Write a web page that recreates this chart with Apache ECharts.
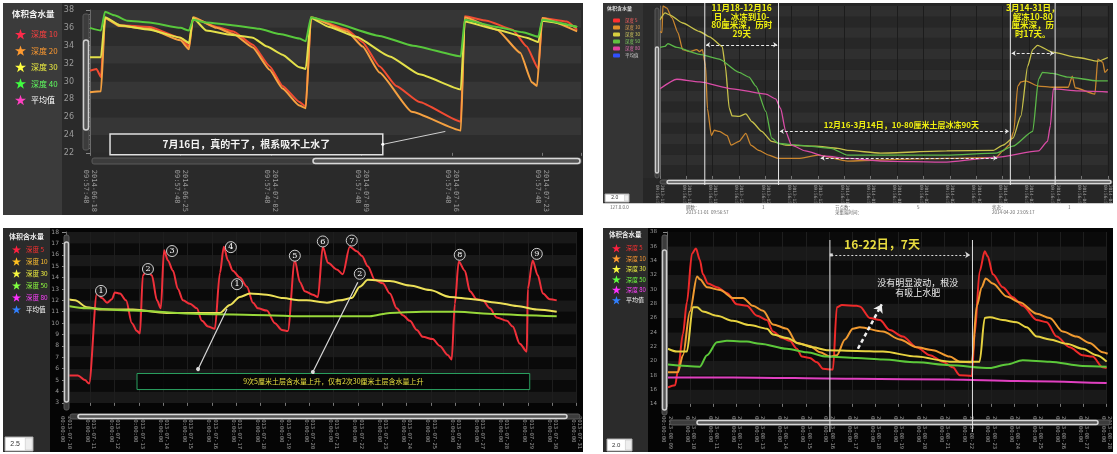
<!DOCTYPE html>
<html><head><meta charset="utf-8">
<script src="https://cdn.jsdelivr.net/npm/echarts@6/dist/echarts.min.js"></script>
<style>
html,body{margin:0;padding:0;background:#fff;width:1117px;height:454px;overflow:hidden;}
.p{position:absolute;}
</style></head><body>
<div id="c1" class="p" style="left:3px;top:3px;width:580px;height:212px"></div>
<div id="c2" class="p" style="left:603px;top:3px;width:510px;height:212px"></div>
<div id="c3" class="p" style="left:3px;top:228px;width:580px;height:224px"></div>
<div id="c4" class="p" style="left:603px;top:228px;width:510px;height:224px"></div>
<script>
// ================= DATA =================
// Panel 1 (top-left): x = days since 2014-06-18 09:57:48
const p1Ticks = ['2014-06-18','2014-06-25','2014-07-02','2014-07-09','2014-07-16','2014-07-23'];
const p1Time = '09:57:48';
const p1Names = ['深度 10','深度 20','深度 30','深度 40','平均值'];
const p1Red = [[0,31.2],[0.5,31.4],[0.85,30.5],[1.16,37.1],[2.3,36.3],[4.6,36.1],[7.0,34.9],[7.66,33.9],[7.97,37.1],[9.8,36.1],[11.1,35.6],[12.6,34.1],[13.9,31.7],[14.9,29.5],[16.2,27.7],[16.7,27.2],[17.1,37.2],[19.9,35.8],[21.1,34.4],[22.4,31.7],[23.7,29.5],[25.5,27.7],[28.7,25.5],[29.0,37.3],[30.7,36.8],[32.7,35.8],[33.8,33.9],[34.7,31.4],[35.0,37.1],[36.9,36.7],[37.7,35.8]];
const p1Orange = [[0,28.8],[0.85,28.9],[1.16,37.1],[2.3,36.2],[4.6,35.9],[7.0,34.6],[7.66,33.6],[7.97,37.2],[9.8,36.0],[11.1,35.3],[12.6,33.8],[13.9,31.3],[14.9,29.2],[16.2,27.3],[16.7,27.0],[17.1,37.2],[19.9,35.6],[21.1,33.9],[22.4,31.0],[24.9,26.6],[28.7,24.5],[29.0,37.2],[31.5,35.8],[33.3,33.2],[34.2,29.9],[34.6,29.5],[35.0,37.1],[37.7,35.6]];
const p1Yellow = [[0,32.7],[0.85,32.7],[1.16,37.2],[2.3,36.3],[4.6,35.8],[7.0,34.9],[7.66,34.3],[7.97,37.1],[9.0,35.7],[11.0,35.2],[12.6,34.9],[13.7,33.9],[14.9,33.0],[16.2,31.6],[16.7,31.4],[17.1,37.1],[18.5,36.1],[20.6,35.0],[23.2,32.8],[25.5,30.8],[28.7,29.1],[29.0,36.7],[31.5,35.8],[33.8,34.9],[34.7,34.4],[35.0,36.8],[37.7,36.1]];
const p1Green = [[0,36.0],[0.85,35.7],[1.16,37.8],[1.9,37.4],[2.9,36.8],[4.6,36.6],[7.0,36.0],[7.66,35.7],[7.97,36.9],[9.0,36.6],[11.0,36.3],[13.1,35.9],[14.7,35.3],[16.2,34.8],[16.7,34.5],[17.1,37.2],[18.5,36.7],[22.4,35.1],[25.0,34.0],[28.7,32.8],[29.0,36.9],[31.5,36.1],[33.5,35.5],[34.7,35.0],[35.0,36.9],[37.7,36.1]];
const p1Note = '7月16日，真的干了，根系吸不上水了';
const p1NoteBox = [[1.55,24.1],[22.66,21.8]];
const p1NoteTarget = [27.5,24.4];

// Panel 2 (top-right): x = days since 2013-11-01
const p2Ticks = ['2013-11-01','2013-11-11','2013-11-21','2013-12-01','2013-12-11','2013-12-21','2013-12-31','2014-01-10','2014-01-20','2014-01-30','2014-02-09','2014-02-19','2014-03-01','2014-03-11','2014-03-21','2014-03-31','2014-04-10','2014-04-20'];
const p2Time = '09:56:57';
const p2Names = ['深度 5','深度 10','深度 30','深度 50','深度 80','平均值'];
const p2Orange = [[0,27.2],[0.75,27.0],[1.1,32.0],[2.6,31.6],[4.5,29.8],[6.8,27.0],[8.6,23.8],[11.3,23.4],[13.9,23.8],[15.0,23.4],[16.1,23.8],[17.3,20.7],[18.0,12.7],[19.5,7.6],[20.6,8.6],[22.5,8.4],[25.5,7.6],[27.0,5.8],[30.0,6.5],[32.6,8.0],[34.5,5.8],[37.5,4.8],[41.3,3.9],[45.0,3.3],[52.5,3.3],[60.0,3.9],[71.3,2.8],[83.7,3.0],[96.4,3.2],[108.8,3.3],[127.6,3.5],[130.2,4.7],[132.5,5.8],[134.3,8.4],[135.8,16.9],[137.0,17.7],[138.8,17.9],[143.7,16.9],[149.0,16.7],[155.0,16.7],[156.5,18.8],[157.6,16.6],[165.1,15.4],[166.2,22.0],[168.1,21.4],[168.9,19.5],[170,20.1]];
const p2Yellow = [[0,29.4],[1.9,30.7],[3.8,30.3],[8.6,28.8],[15.0,27.2],[18.8,26.2],[23.6,24.4],[24.8,20.7],[26.3,12.7],[27.4,11.3],[30.0,11.2],[32.6,11.7],[34.9,10.2],[38.6,8.4],[42.4,6.5],[47.7,5.8],[58.9,5.6],[67.5,5.2],[71.3,4.8],[83.7,4.3],[108.8,4.7],[126.5,4.8],[130.2,5.8],[134.0,7.1],[137.0,11.3],[139.6,20.7],[141.5,23.8],[143.3,24.6],[149.0,23.3],[158.7,22.3],[166.2,21.6],[170,22.3]];
const p2Green = [[0,24.2],[1.9,24.4],[3.0,24.9],[6.4,24.2],[15.0,22.9],[22.5,22.0],[30.0,19.5],[33.8,18.6],[36.4,16.9],[40.2,12.1],[42.4,7.1],[45.0,6.1],[52.5,5.8],[64.9,5.2],[71.3,3.9],[108.8,3.9],[127.6,4.3],[134.0,5.6],[141.5,8.4],[143.7,18.2],[145.2,19.5],[149.0,19.3],[155.0,18.6],[166.2,17.9],[170,17.9]];
const p2Magenta = [[0,16.4],[6.4,18.2],[15.0,17.7],[27.4,16.4],[40.2,15.4],[43.9,14.5],[45.8,12.7],[47.7,8.4],[49.9,5.8],[55.2,4.7],[62.7,3.7],[71.3,3.3],[83.7,2.8],[108.8,2.6],[127.6,3.5],[143.7,4.7],[147.1,6.5],[148.2,9.5],[149.3,16.4],[158.7,16.0],[170,15.8]];
const p2Marks = [17,45,133,150];
const p2Note1 = '11月18-12月16\n日，冰冻到10-\n80厘米深，历时\n29天';
const p2Note2 = '12月16-3月14日，10-80厘米土层冰冻90天';
const p2Note3 = '3月14-31日，\n解冻10-80\n厘米深，历\n时17天。';

// Panel 3 (bottom-left): x = label index (daily)
const p3Ticks = ['2013-07-10','2013-07-11','2013-07-12','2013-07-13','2013-07-14','2013-07-15','2013-07-16','2013-07-17','2013-07-18','2013-07-19','2013-07-20','2013-07-21','2013-07-22','2013-07-23','2013-07-24','2013-07-25','2013-07-26','2013-07-27','2013-07-28','2013-07-29','2013-07-30','2013-07-31'];
const p3Time = '00:00:00';
const p3Names = ['深度 5','深度 10','深度 30','深度 50','深度 80','平均值'];
const p3Red = [[0.08,5.4],[0.49,5.4],[0.78,5.0],[0.95,4.7],[1.27,12.6],[1.48,12.2],[1.69,11.8],[1.89,12.1],[2.01,12.7],[2.22,12.6],[2.47,12.0],[2.71,10.0],[2.92,9.3],[3.04,9.1],[3.16,14.2],[3.33,14.6],[3.53,14.2],[3.74,12.0],[3.90,11.3],[4.03,16.4],[4.19,15.5],[4.40,14.6],[4.60,13.0],[4.81,12.0],[5.10,11.7],[5.38,11.3],[5.59,10.2],[5.84,9.7],[6.12,9.5],[6.33,14.4],[6.49,16.7],[6.66,15.5],[6.86,14.6],[7.15,14.0],[7.44,13.2],[7.69,11.8],[7.89,11.3],[8.26,11.1],[8.59,10.0],[8.88,9.4],[9.12,9.3],[9.41,15.5],[9.62,13.6],[9.82,12.8],[10.15,12.5],[10.36,12.3],[10.56,16.7],[10.77,15.3],[11.14,14.7],[11.38,14.3],[11.67,16.7],[11.96,16.3],[12.17,15.9],[12.41,15.0],[12.70,13.8],[13.03,13.5],[13.32,12.6],[13.60,11.3],[13.85,10.7],[14.14,10.2],[14.43,9.4],[14.67,8.8],[15.08,8.6],[15.37,8.0],[15.70,7.2],[15.86,6.8],[15.99,11.7],[16.15,15.4],[16.40,14.6],[16.61,12.8],[16.89,12.1],[17.14,12.0],[17.43,11.3],[17.71,10.5],[18.13,10.2],[18.37,9.7],[18.66,8.2],[18.95,7.5],[18.99,13.0],[19.19,15.5],[19.40,14.2],[19.61,12.6],[19.89,12.1],[20.18,12.0]];
const p3Yellow = [[0.08,12.1],[0.37,12.0],[0.86,11.4],[1.40,11.2],[2.75,11.2],[4.15,10.9],[6.33,10.9],[6.74,11.6],[7.15,12.3],[7.56,12.6],[8.26,12.5],[8.92,12.2],[9.62,12.0],[9.90,12.0],[10.73,11.8],[11.26,12.0],[11.75,12.2],[12.08,13.2],[12.41,13.8],[13.32,13.7],[14.14,13.3],[14.96,12.9],[15.78,12.3],[16.73,12.1],[17.71,11.8],[18.54,11.5],[19.36,11.2],[20.18,11.0]];
const p3Green = [[0.08,11.5],[0.86,11.3],[2.75,11.1],[5.51,10.8],[8.26,10.7],[9.62,10.6],[12.49,10.6],[13.32,10.9],[14.67,11.0],[16.07,11.0],[17.71,10.8],[18.78,10.7],[20.18,10.6]];
const p3RedPeaks = [[1.44,12.83],[3.37,14.75],[4.36,16.33],[6.78,16.67],[9.41,15.92],[10.56,17.17],[11.75,17.25],[16.19,16.0],[19.36,16.08]];
const p3YellowPeaks = [[7.03,13.42],[12.08,14.33]];
const p3Note = '9次5厘米土层含水量上升，仅有2次30厘米土层含水量上升';
const p3NoteBox = [[2.92,5.58],[19.07,4.17]];
const p3Pointers = [[[5.43,5.96],[6.62,11.25]],[[10.15,5.71],[12.0,13.58]]];

// Panel 4 (bottom-right): x = label index (daily)
const p4Ticks = ['2013-08-09','2013-08-10','2013-08-11','2013-08-12','2013-08-13','2013-08-14','2013-08-15','2013-08-16','2013-08-17','2013-08-18','2013-08-19','2013-08-20','2013-08-21','2013-08-22','2013-08-23','2013-08-24','2013-08-25','2013-08-26','2013-08-27','2013-08-28'];
const p4Time = '00:00:00';
const p4Names = ['深度 5','深度 10','深度 30','深度 50','深度 80','平均值'];
const p4Red = [[0.04,16.3],[0.35,16.6],[0.47,18.6],[0.69,23.8],[0.86,28.2],[1.08,35.0],[1.25,35.7],[1.42,34.1],[1.55,32.1],[1.77,30.8],[2.16,30.3],[2.59,29.5],[3.02,27.9],[3.45,27.7],[3.89,26.3],[4.32,25.7],[4.58,24.1],[4.97,23.2],[5.31,22.8],[5.61,21.7],[5.83,20.6],[6.17,20.4],[6.48,19.8],[6.74,18.9],[7.17,18.8],[7.34,27.5],[7.56,27.8],[8.20,27.7],[8.33,27.6],[8.77,26.0],[9.20,25.7],[9.63,24.3],[10.19,23.4],[10.79,21.9],[11.36,20.8],[11.92,19.9],[12.35,19.1],[12.65,18.0],[13.17,17.9],[13.30,23.8],[13.51,32.5],[13.73,35.3],[13.86,34.6],[14.08,32.1],[14.51,30.3],[14.94,28.9],[15.37,27.7],[15.98,25.7],[16.41,25.4],[16.84,23.4],[17.40,21.9],[17.96,20.8],[18.39,20.6],[18.83,19.1],[19.0,19.0]];
const p4Orange = [[0.04,18.4],[0.47,18.4],[0.69,20.8],[0.99,26.9],[1.30,31.8],[1.42,31.4],[1.73,30.3],[2.29,29.9],[2.85,28.8],[3.28,28.8],[3.71,27.7],[4.15,27.0],[4.58,25.1],[5.18,24.5],[5.61,22.5],[6.17,22.1],[6.61,21.2],[7.04,20.6],[7.34,20.8],[7.69,23.0],[8.03,24.5],[8.33,24.7],[9.33,24.1],[10.06,23.0],[10.79,21.9],[11.49,21.5],[12.22,20.6],[12.65,19.9],[13.17,19.8],[13.39,27.7],[13.60,30.3],[13.77,31.5],[14.08,30.8],[14.68,29.0],[15.24,28.2],[15.98,26.6],[16.54,26.0],[17.10,24.1],[17.70,23.4],[18.26,22.5],[18.83,21.2],[19.04,21.0]];
const p4Yellow = [[0.04,21.7],[0.43,21.3],[0.86,21.3],[1.12,27.5],[1.30,27.5],[1.55,26.9],[2.16,26.3],[2.85,25.6],[3.58,25.0],[4.32,24.5],[4.58,23.7],[5.18,23.2],[5.74,22.4],[6.30,21.9],[6.91,21.5],[8.20,21.4],[9.33,21.3],[10.79,20.6],[12.22,19.9],[13.51,19.9],[13.73,26.0],[13.95,26.1],[14.51,25.7],[15.11,25.4],[15.54,24.7],[15.98,23.4],[16.54,23.0],[17.27,22.4],[17.96,21.7],[18.57,20.8],[19.0,19.9]];
const p4Green = [[0.04,19.5],[1.42,19.2],[1.73,20.8],[2.16,22.6],[2.59,22.8],[3.45,22.7],[4.02,22.4],[5.18,21.7],[6.04,21.2],[6.91,20.6],[8.20,20.4],[9.33,20.2],[10.79,19.8],[12.22,19.4],[13.95,19.0],[14.68,19.5],[15.37,20.1],[16.54,19.9],[17.96,19.3],[19.0,19.2]];
const p4Magenta = [[0.04,17.7],[2.85,17.7],[8.20,17.5],[12.22,17.4],[15.11,17.2],[19.0,16.9]];
const p4Marks = [7.04,13.2];
const p4Title = '16-22日，7天';
const p4Note = '没有明显波动，根没\n有吸上水肥';

// ================= HELPERS =================
const STAR = 'path://M50,0L61.8,35.1L98.9,35.1L68.8,57.3L80.2,92.7L50,70.9L19.8,92.7L31.2,57.3L1.1,35.1L38.2,35.1Z';
const CJK = '"Noto Sans CJK SC", sans-serif';
function xLab(ticks, step, time) {
  return function (v) {
    const i = Math.round(v / step);
    return (Math.abs(v - i * step) < 1e-6 && ticks[i]) ? ticks[i] + '\n' + time : '';
  };
}
function ln(name, data, color, w, smooth) {
  return {name: name, type: 'line', data: data, symbol: 'none', showSymbol: false,
    smooth: smooth || 0, smoothMonotone: 'x', lineStyle: {color: color, width: w},
    itemStyle: {color: color}, color: color, z: 3, silent: true};
}
function legendData(names, icons, texts) {
  return names.map(function (n, i) { return {name: n, itemStyle: {color: icons[i]}, textStyle: {color: texts[i]}}; });
}
function R(x, y, w, h, fill, stroke, lw, r, z) {
  return {type: 'rect', silent: true, z: z || 1, shape: {x: x, y: y, width: w, height: h, r: r || 0}, style: {fill: fill, stroke: stroke || null, lineWidth: lw || 0}};
}
function T(x, y, t, font, fill, align, valign, lh, z) {
  return {type: 'text', silent: true, z: z || 50, x: x, y: y, style: {text: t, font: font, fill: fill, textAlign: align || 'left', textVerticalAlign: valign || 'middle', lineHeight: lh || undefined}};
}
function L(x1, y1, x2, y2, stroke, lw, dash, z) {
  return {type: 'line', silent: true, z: z || 40, shape: {x1: x1, y1: y1, x2: x2, y2: y2}, style: {stroke: stroke, lineWidth: lw || 1, lineDash: dash || null}};
}
function vScroll(x, y1, y2, h1, h2, w) {
  return [R(x, y1, w, y2 - y1, '#3c3c3c', '#5a5a5a', 1, 2, 5), R(x + 0.5, h1, w - 1, h2 - h1, '#555', '#cfcfcf', 1.5, w / 2, 6)];
}
function hScroll(y, x1, x2, h1, h2, h) {
  return [R(x1, y, x2 - x1, h, '#3c3c3c', '#5a5a5a', 1, 2, 5), R(h1, y + 0.5, h2 - h1, h - 1, '#555', '#d8d8d8', 1.5, h / 2, 6)];
}
function inputBox(x, y, w, h, txt, fs) {
  return [R(x, y, w, h, '#ffffff', '#aaa', 1, 0, 5), R(x + w - h * 0.55, y + 1, h * 0.5, h - 2, '#eee', '#bbb', 0.5, 0, 6),
    T(x + (w - h * 0.55) / 2, y + h / 2, txt, fs + 'px sans-serif', '#333', 'center', 'middle', null, 7)];
}
function yAxisCfg(min, max, step, offset, fs, bands, margin) {
  return {type: 'value', min: min, max: max, interval: step, offset: offset,
    axisLine: {show: true, lineStyle: {color: '#6a6a6a'}},
    axisTick: {show: true, length: 4, lineStyle: {color: '#8a8a8a'}},
    minorTick: {show: true, splitNumber: 4, length: 2, lineStyle: {color: '#6a6a6a'}},
    splitLine: {show: false}, splitArea: {show: true, areaStyle: {color: bands}},
    axisLabel: {fontSize: fs, color: '#9a9a9a', margin: margin, fontFamily: 'DejaVu Sans'}};
}
function xAxisCfg(max, step, ticks, time, fs, margin, split) {
  return {type: 'value', min: 0, max: max, interval: step,
    axisLine: {show: false}, axisTick: {show: true, length: 3, lineStyle: {color: '#777'}},
    splitLine: {show: !!split, lineStyle: {color: split || '#000', width: 1}},
    axisLabel: {rotate: -90, margin: margin, fontSize: fs, lineHeight: fs * 1.15, color: '#9a9a9a',
      fontFamily: 'DejaVu Sans Mono', formatter: xLab(ticks, step, time), showMaxLabel: true, hideOverlap: false}};
}

// ================= PANEL 1 =================
const c1 = echarts.init(document.getElementById('c1'), null, {width: 580, height: 212});
c1.setOption({
  animation: false, backgroundColor: '#2a2a2a',
  grid: {left: 87, top: 7, width: 491, height: 145},
  legend: {orient: 'vertical', left: 7, top: 21, itemWidth: 11, itemHeight: 11, itemGap: 6, icon: STAR, selectedMode: false,
    textStyle: {fontSize: 8, fontFamily: CJK},
    data: legendData(p1Names, ['#ff2a4a', '#ff9a30', '#ffff40', '#40ff40', '#ff40c0'], ['#ff4040', '#ff9a30', '#f0f040', '#60ff60', '#ffffff'])},
  xAxis: xAxisCfg(38, 7, p1Ticks, p1Time, 7, 17, null),
  yAxis: yAxisCfg(22, 38, 2, 10, 8, ['#2c2c2c', '#363636'], 6),
  series: [
    ln(p1Names[0], p1Red, '#f24b32', 2, 0.15),
    ln(p1Names[1], p1Orange, '#f5a040', 2, 0.15),
    ln(p1Names[2], p1Yellow, '#e3e04a', 2, 0.15),
    ln(p1Names[3], p1Green, '#58c83c', 2, 0.15),
    ln(p1Names[4], [], '#ff40c0', 2)
  ]
});
(function () {
  const b0 = c1.convertToPixel({gridIndex: 0}, p1NoteBox[0]);
  const b1 = c1.convertToPixel({gridIndex: 0}, p1NoteBox[1]);
  const tg = c1.convertToPixel({gridIndex: 0}, p1NoteTarget);
  const g = [R(0, 0, 59, 212, '#3b3b3b', null, 0, 0, 0),
    T(9, 11, '体积含水量', 'bold 8.5px ' + CJK, '#f0f0f0', 'left', 'middle')]
    .concat(vScroll(80, 11, 147, 37, 127, 6))
    .concat(hScroll(155, 89, 578, 310, 577, 6))
    .concat([
      L(b1[0], (b0[1] + b1[1]) / 2, tg[0], tg[1], '#cfcfcf', 1, null, 60),
      R(b0[0], b0[1], b1[0] - b0[0], b1[1] - b0[1], '#2d2d2d', '#e0e0e0', 1.5, 0, 61),
      T((b0[0] + b1[0]) / 2, (b0[1] + b1[1]) / 2, p1Note, 'bold 10px ' + CJK, '#f2f2f2', 'center', 'middle', null, 62),
      {type: 'circle', silent: true, z: 62, shape: {cx: b1[0], cy: (b0[1] + b1[1]) / 2, r: 1.5}, style: {fill: '#fff'}}
    ]);
  c1.setOption({graphic: g});
})();

// ================= PANEL 2 =================
const c2 = echarts.init(document.getElementById('c2'), null, {width: 510, height: 212});
const dashW = {color: '#e8e8e8', type: [3, 2], width: 1};
c2.setOption({
  animation: false, backgroundColor: '#262626',
  grid: {left: 57, top: 3, width: 453, height: 172},
  legend: {orient: 'vertical', left: 5, top: 10, itemWidth: 7, itemHeight: 4, itemGap: 2, icon: 'roundRect', selectedMode: false,
    textStyle: {fontSize: 4.5, lineHeight: 5, fontFamily: CJK},
    data: legendData(p2Names, ['#ff3030', '#e0902a', '#d8d040', '#60c040', '#e040a0', '#3050ff'], ['#ff6060', '#e0a050', '#d8d060', '#80d060', '#e070b0', '#cccccc'])},
  xAxis: xAxisCfg(170, 10, p2Ticks, p2Time, 4.5, 9, '#1c1c1c'),
  yAxis: yAxisCfg(0, 32, 2, 5, 4.5, ['#272727', '#2f2f2f'], 3),
  series: [
    ln(p2Names[0], [], '#ff3030', 1.3),
    Object.assign(ln(p2Names[1], p2Orange, '#c9852e', 1.3, 0.2), {
      markLine: {silent: true, symbol: ['arrow', 'arrow'], symbolSize: 4, label: {show: false}, lineStyle: dashW,
        data: [
          [{coord: [17.5, 24.7]}, {coord: [44.5, 24.7]}],
          [{coord: [45.5, 8.4]}, {coord: [132.5, 8.4]}],
          [{coord: [133.5, 23.1]}, {coord: [149.5, 23.1]}],
          [{coord: [61, 3.35]}, {coord: [128, 3.35]}]
        ]}
    }),
    ln(p2Names[2], p2Yellow, '#c8c24a', 1.3, 0.2),
    ln(p2Names[3], p2Green, '#5cb849', 1.3, 0.2),
    ln(p2Names[4], p2Magenta, '#d94ca6', 1.3, 0.2),
    ln(p2Names[5], [], '#3050ff', 1.3)
  ]
});
(function () {
  const px = function (d, v) { return c2.convertToPixel({gridIndex: 0}, [d, v || 0]); };
  const g = [R(0, 0, 40, 200, '#343434', null, 0, 0, 0),
    R(40, 0, 17, 175, '#2a2a2a', null, 0, 0, 0),
    T(4, 5, '体积含水量', 'bold 5px ' + CJK, '#dddddd', 'left', 'middle'),
    R(0, 200, 510, 12, '#ffffff', null, 0, 0, 20),
    L(0, 200.5, 510, 200.5, '#cccccc', 1, null, 21)]
    .concat(vScroll(52, 5, 175, 44, 170, 4))
    .concat(hScroll(177, 57, 509, 64, 508, 4))
    .concat(inputBox(2, 191, 24, 8, '2.0', 5));
  p2Marks.forEach(function (d) { const x = px(d)[0]; g.push(L(x, 0, x, 182, '#e8e8e8', 1, null, 45)); });
  const t1 = px(31, 0), t2 = px(91.6, 9.6), t3 = px(141.5, 0);
  g.push(T(t1[0], 1, p2Note1, 'bold 8.5px ' + CJK, '#eeee10', 'center', 'top', 8.4, 60));
  g.push(T(t2[0], t2[1], p2Note2, 'bold 8px ' + CJK, '#eeee10', 'center', 'middle', null, 60));
  g.push(T(t3[0], 1, p2Note3, 'bold 8.5px ' + CJK, '#eeee10', 'center', 'top', 8.4, 60));
  const sf = '4.5px ' + CJK;
  g.push(T(7, 204, '127.0.0.0', sf, '#666', 'left', 'middle', null, 22));
  g.push(T(83, 204, '脚数：', sf, '#666', 'left', 'middle', null, 22));
  g.push(T(83, 209, '2013-11-01  09:56:57', sf, '#666', 'left', 'middle', null, 22));
  g.push(T(159, 204, '1', sf, '#666', 'left', 'middle', null, 22));
  g.push(T(232, 204, '节点数：', sf, '#666', 'left', 'middle', null, 22));
  g.push(T(232, 209, '采集端时间：', sf, '#666', 'left', 'middle', null, 22));
  g.push(T(314, 204, '5', sf, '#666', 'left', 'middle', null, 22));
  g.push(T(389, 204, '状态：', sf, '#666', 'left', 'middle', null, 22));
  g.push(T(389, 209, '2014-04-20  23:05:17', sf, '#666', 'left', 'middle', null, 22));
  g.push(T(465, 204, '1', sf, '#666', 'left', 'middle', null, 22));
  c2.setOption({graphic: g});
})();

// ================= PANEL 3 =================
const c3 = echarts.init(document.getElementById('c3'), null, {width: 580, height: 224});
function circ(list) {
  return list.map(function (p, i) { return {coord: p, value: i + 1}; });
}
c3.setOption({
  animation: false, backgroundColor: '#050505',
  grid: {left: 63, top: 4, width: 511, height: 180},
  legend: {orient: 'vertical', left: 4, top: 12, itemWidth: 9, itemHeight: 9, itemGap: 3, icon: STAR, selectedMode: false,
    textStyle: {fontSize: 6.5, lineHeight: 9, fontFamily: CJK},
    data: legendData(p3Names, ['#ff2040', '#ffc020', '#f8f840', '#80ff40', '#ff30ff', '#3080ff'], ['#ff3030', '#ffc030', '#f0f040', '#90ff40', '#ff40ff', '#ffffff'])},
  xAxis: xAxisCfg(21, 1, p3Ticks, p3Time, 5.5, 13, '#1e1e1e'),
  yAxis: yAxisCfg(3, 18, 1, 4, 6, ['#191919', '#0a0a0a'], 3),
  series: [
    Object.assign(ln(p3Names[0], p3Red, '#f0303a', 2, 0.3), {
      markPoint: {silent: true, symbol: 'circle', symbolSize: 11, itemStyle: {color: '#1a1a1a', borderColor: '#cfcfcf', borderWidth: 1},
        label: {show: true, color: '#ffffff', fontSize: 8, fontFamily: 'DejaVu Serif', formatter: '{c}'},
        data: circ(p3RedPeaks)},
      markArea: {silent: true, itemStyle: {color: 'rgba(5,5,5,0.85)', borderColor: '#2aa060', borderWidth: 1},
        label: {show: true, position: 'inside', color: '#e8e040', fontSize: 7, fontFamily: CJK},
        data: [[{name: p3Note, coord: p3NoteBox[0]}, {coord: p3NoteBox[1]}]]},
      markLine: {silent: true, symbol: ['circle', 'none'], symbolSize: 4, label: {show: false},
        lineStyle: {color: '#d8d8d8', type: 'solid', width: 1.2},
        data: p3Pointers.map(function (s) { return [{coord: s[0]}, {coord: s[1]}]; })}
    }),
    ln(p3Names[1], p3Yellow, '#ece058', 2, 0.3),
    Object.assign(ln(p3Names[2], [], '#f8f840', 2), {
      markPoint: {silent: true, symbol: 'circle', symbolSize: 11, itemStyle: {color: '#1a1a1a', borderColor: '#cfcfcf', borderWidth: 1},
        label: {show: true, color: '#ffffff', fontSize: 8, fontFamily: 'DejaVu Serif', formatter: '{c}'},
        data: circ(p3YellowPeaks)}
    }),
    ln(p3Names[3], p3Green, '#98d83a', 2, 0.3),
    ln(p3Names[4], [], '#ff30ff', 2),
    ln(p3Names[5], [], '#3080ff', 2)
  ]
});
c3.setOption({graphic: [R(0, 0, 47, 224, '#2b2b2b', null, 0, 0, 0),
  T(6, 8, '体积含水量', 'bold 7px ' + CJK, '#eeeeee', 'left', 'middle')]
  .concat(vScroll(61, 7, 182, 14, 174, 5))
  .concat(hScroll(186, 67, 577, 75, 564, 5))
  .concat(inputBox(2, 209, 28, 14, '2.5', 7))});

// ================= PANEL 4 =================
const c4 = echarts.init(document.getElementById('c4'), null, {width: 510, height: 224});
c4.setOption({
  animation: false, backgroundColor: '#050505',
  grid: {left: 64, top: 4, width: 440, height: 186},
  legend: {orient: 'vertical', left: 4, top: 11, itemWidth: 9, itemHeight: 8.4, itemGap: 2, icon: STAR, selectedMode: false,
    textStyle: {fontSize: 6, lineHeight: 8.4, fontFamily: CJK},
    data: legendData(p4Names, ['#ff2040', '#ff9a30', '#f8f840', '#60ff40', '#ff30ff', '#3080ff'], ['#ff3030', '#ff9a30', '#f0f040', '#70ff40', '#ff40ff', '#ffffff'])},
  xAxis: xAxisCfg(19, 1, p4Ticks, p4Time, 5.5, 12, '#1e1e1e'),
  yAxis: yAxisCfg(14, 38, 2, 7, 5.5, ['#191919', '#0a0a0a'], 3),
  series: [
    Object.assign(ln(p4Names[0], p4Red, '#ee2a2a', 2, 0.3), {
      markLine: {silent: true, label: {show: false}, symbolSize: 5,
        data: [
          [{coord: [7.1, 34.8], symbol: 'rect', symbolSize: 3, lineStyle: {color: '#d8d8d8', type: [2, 2], width: 1}}, {coord: [13.1, 34.8], symbol: 'arrow'}],
          [{coord: [8.25, 21.7], symbol: 'none', lineStyle: {color: '#f0f0f0', type: [4, 3], width: 2.5}}, {coord: [9.28, 27.9], symbol: 'arrow', symbolSize: 8}]
        ]}
    }),
    ln(p4Names[1], p4Orange, '#f09a30', 2, 0.3),
    ln(p4Names[2], p4Yellow, '#e6d240', 2, 0.3),
    ln(p4Names[3], p4Green, '#5cc83a', 2, 0.3),
    ln(p4Names[4], p4Magenta, '#e040c0', 2, 0.3),
    ln(p4Names[5], [], '#3080ff', 2)
  ]
});
(function () {
  const px = function (d, v) { return c4.convertToPixel({gridIndex: 0}, [d, v || 14]); };
  const g = [R(0, 0, 45, 224, '#2b2b2b', null, 0, 0, 0),
    T(6, 7, '体积含水量', 'bold 6.5px ' + CJK, '#eeeeee', 'left', 'middle')]
    .concat(vScroll(59, 7, 187, 22, 182, 5))
    .concat(hScroll(192, 67, 507, 94, 495, 5))
    .concat(inputBox(4, 211, 25, 12, '2.0', 6));
  p4Marks.forEach(function (d) { const x = px(d)[0]; g.push(L(x, 12, x, 204, '#e0e0e0', 1, null, 45)); });
  const a = px(9.29, 36.3), b = px(10.84, 30.3);
  g.push(T(a[0], a[1], p4Title, 'bold 12px ' + CJK, '#e8dc40', 'center', 'middle', null, 60));
  g.push(T(b[0], b[1], p4Note, '9px ' + CJK, '#f0f0f0', 'center', 'middle', 10, 60));
  c4.setOption({graphic: g});
})();
</script>
</body></html>
